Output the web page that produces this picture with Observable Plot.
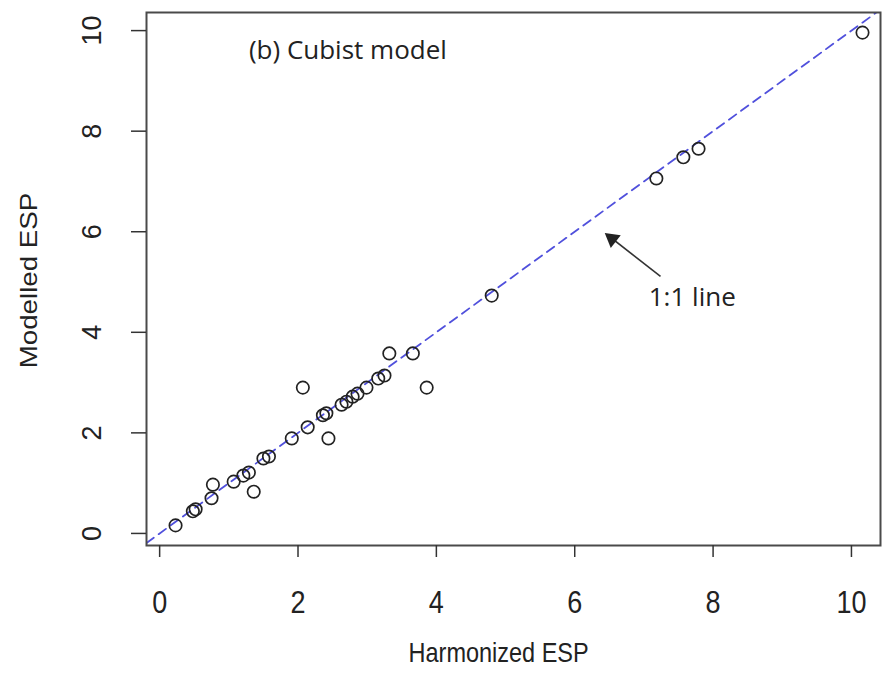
<!DOCTYPE html>
<html>
<head>
<meta charset="utf-8">
<script src="https://cdn.jsdelivr.net/npm/d3@7"></script>
<script src="https://cdn.jsdelivr.net/npm/@observablehq/plot@0.6"></script>
<style>
  html, body { margin: 0; padding: 0; background: #fff; }
</style>
</head>
<body>
<div id="chart"></div>
<script>
// Harmonized ESP (x) vs Modelled ESP (y)
const harmonized = [0.23, 0.48, 0.52, 0.75, 0.77, 1.07, 1.21, 1.29, 1.36, 1.50, 1.58, 1.91, 2.07, 2.14, 2.36, 2.41, 2.44, 2.63, 2.70, 2.79, 2.86, 2.99, 3.16, 3.25, 3.32, 3.66, 3.86, 4.80, 7.18, 7.57, 7.79, 10.16];
const modelled   = [0.16, 0.44, 0.48, 0.70, 0.97, 1.03, 1.15, 1.21, 0.83, 1.49, 1.53, 1.89, 2.90, 2.11, 2.35, 2.39, 1.89, 2.56, 2.62, 2.72, 2.78, 2.90, 3.08, 3.14, 3.58, 3.58, 2.90, 4.73, 7.06, 7.48, 7.65, 9.96];

const xTicks = [0, 2, 4, 6, 8, 10];
const yTicks = [0, 2, 4, 6, 8, 10];
const xDomain = [-0.19, 10.42];
const yDomain = [-0.24, 10.36];

const panelTitle = "(b) Cubist model";
const xTitle = "Harmonized ESP";
const yTitle = "Modelled ESP";
const lineLabel = "1:1 line";

// annotation anchors in data units
const panelTitlePos = [1.29, 9.6];
const lineLabelPos = [7.07, 4.69];
const arrowFrom = [7.24, 5.11];
const arrowTo = [6.47, 5.94];
const arrowHeadAt = [6.54, 5.86];

const points = harmonized.map((h, i) => ({x: h, y: modelled[i]}));
const oneToOne = [xDomain[0], Math.max(xDomain[1], yDomain[1])].map(v => ({x: v, y: v}));

const tickFont = "'Liberation Sans', Arial, sans-serif";
const noteFont = "'Open Sans', sans-serif";

const chart = Plot.plot({
  width: 883,
  height: 677,
  marginLeft: 146,
  marginRight: 3,
  marginTop: 12,
  marginBottom: 132,
  style: {fontFamily: tickFont, background: "#fff", overflow: "visible"},
  x: {domain: xDomain},
  y: {domain: yDomain},
  marks: [
    Plot.line(oneToOne, {x: "x", y: "y", stroke: "#5050dc", strokeWidth: 1.8, strokeDasharray: "9,6", clip: true}),
    Plot.dot(points, {x: "x", y: "y", r: 6.2, stroke: "#222", strokeWidth: 1.7, fill: "none"}),
    Plot.frame({stroke: "#4a4a4a", strokeWidth: 2}),
    Plot.axisX({ticks: xTicks, tickSize: 12, tickPadding: 35, fontSize: 27, tickFormat: d => String(d), label: null, stroke: "#333", strokeWidth: 1.5, fill: "#222"}),
    Plot.axisY({ticks: yTicks, tickSize: 15, tickFormat: () => "", label: null, stroke: "#333", strokeWidth: 1.5}),
    Plot.text(yTicks, {y: d => d, frameAnchor: "left", dx: -54, rotate: -90, text: d => String(d), fontSize: 27, fill: "#222", textAnchor: "middle"}),
    Plot.text([xTitle], {x: () => 4.9, frameAnchor: "bottom", dy: 115, text: d => d, fontSize: 23.5, fill: "#222", textAnchor: "middle"}),
    Plot.text([yTitle], {y: () => 5.03, frameAnchor: "left", dx: -117, rotate: -90, text: d => d, fontSize: 23.5, fill: "#222", textAnchor: "middle"}),
    Plot.text([panelTitle], {x: () => panelTitlePos[0], y: () => panelTitlePos[1], text: d => d, textAnchor: "start", fontSize: 26, fontFamily: noteFont, fill: "#222"}),
    Plot.text([lineLabel], {x: () => lineLabelPos[0], y: () => lineLabelPos[1], text: d => d, textAnchor: "start", fontSize: 26, fontFamily: noteFont, fill: "#222"}),
    Plot.link([0], {x1: () => arrowFrom[0], y1: () => arrowFrom[1], x2: () => arrowTo[0], y2: () => arrowTo[1], stroke: "#333", strokeWidth: 1.6}),
    Plot.dot([0], {x: () => arrowHeadAt[0], y: () => arrowHeadAt[1], symbol: "triangle", r: 6, fill: "#222", stroke: "none", rotate: -52})
  ]
});
document.getElementById("chart").appendChild(chart);

// The original R graphic is slightly stretched vertically: mimic that on its texts.
function stretch(el, sx, sy) {
  const b = el.getBBox();
  const cx = b.x + b.width / 2, cy = b.y + b.height / 2;
  const t = el.getAttribute("transform") || "";
  el.setAttribute("transform", `${t} translate(${cx},${cy}) scale(${sx},${sy}) translate(${-cx},${-cy})`);
}
chart.querySelectorAll('g[aria-label="x-axis tick label"] text').forEach(el => stretch(el, 1, 1.18));
chart.querySelectorAll("text").forEach(el => {
  if (el.textContent === xTitle) stretch(el, 1, 1.2);
  if (el.textContent === yTitle) stretch(el, 1.18, 1);
});
</script>
</body>
</html>
